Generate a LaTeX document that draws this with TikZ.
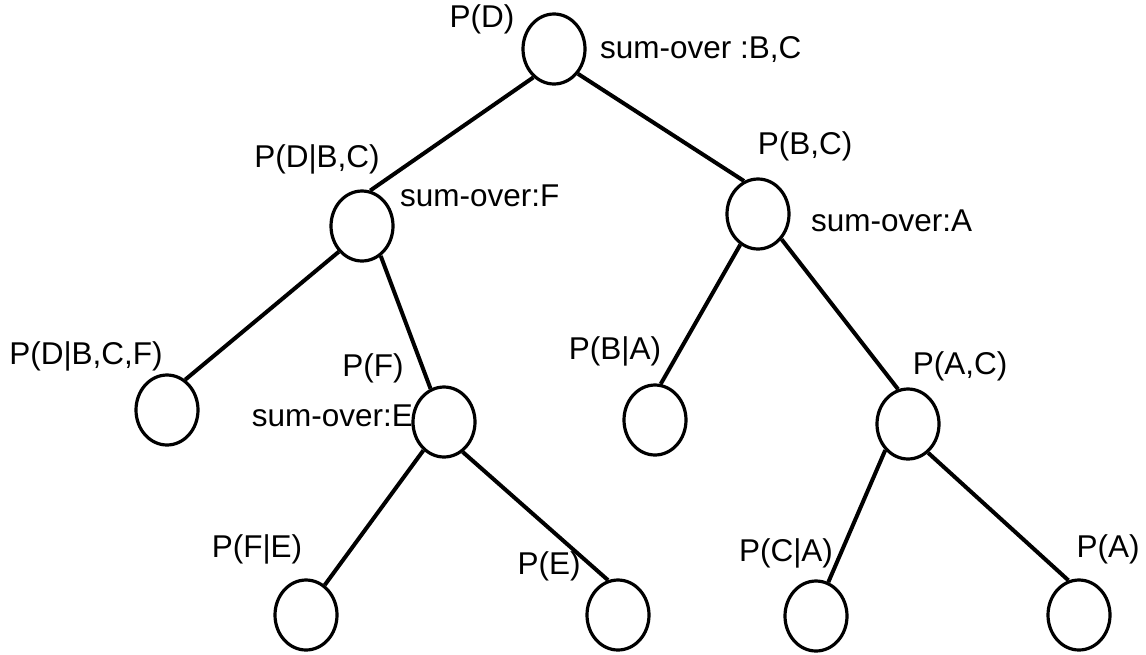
\documentclass[tikz,border=0pt]{standalone}
\usepackage{fontspec}
\setmainfont{Liberation Sans}
\usetikzlibrary{shapes.geometric}
\begin{document}
\begin{tikzpicture}[x=1pt,y=-1pt,
  vnode/.style={ellipse,draw,line width=3.2pt,inner sep=0pt,minimum width=62pt,minimum height=70pt},
  lbl/.style={inner sep=0pt,font=\fontsize{31.5}{36}\selectfont},
  edge/.style={line width=4pt}]
\useasboundingbox (0,0) rectangle (1146,654);
% nodes
\node[vnode] (root) at (554,49) {};
\node[vnode] (dbc) at (362,226) {};
\node[vnode] (bc) at (758,214) {};
\node[vnode] (dbcf) at (167,410) {};
\node[vnode] (f) at (444,422) {};
\node[vnode] (ba) at (655,420) {};
\node[vnode] (ac) at (908,424) {};
\node[vnode] (fe) at (306,615) {};
\node[vnode] (e) at (618,615) {};
\node[vnode] (ca) at (816,616) {};
\node[vnode] (a) at (1079,615) {};
% edges
\draw[edge] (root.234) -- (dbc.77);
\draw[edge] (root.314) -- (bc.113);
\draw[edge] (dbc.228) -- (dbcf.59);
\draw[edge] (dbc.302) -- (f.112);
\draw[edge] (bc.240) -- (ba.81);
\draw[edge] (bc.313) -- (ac.106);
\draw[edge] (f.234) -- (fe.58);
\draw[edge] (f.302) -- (e.106);
\draw[edge] (ac.229) -- (ca.70);
\draw[edge] (ac.305) -- (a.107);
% labels
\node[lbl] (lroot) at (482,19) {P(D)};
\node[lbl,anchor=west] (sroot) at (600,50) {sum-over :B,C};
\node[lbl] (ldbc) at (317,159) {P(D|B,C)};
\node[lbl,anchor=west] (sdbc) at (400,196) {sum-over:F};
\node[lbl] (lbc) at (805,146) {P(B,C)};
\node[lbl,anchor=west] (sbc) at (811,221) {sum-over:A};
\node[lbl] (ldbcf) at (86,356) {P(D|B,C,F)};
\node[lbl] (lf) at (373,368) {P(F)};
\node[lbl,anchor=east] (sf) at (413,416) {sum-over:E};
\node[lbl] (lba) at (615,351) {P(B|A)};
\node[lbl] (lac) at (960,366) {P(A,C)};
\node[lbl] (lfe) at (257,549) {P(F|E)};
\node[lbl] (le) at (549,566) {P(E)};
\node[lbl] (lca) at (786,553) {P(C|A)};
\node[lbl] (la) at (1108,549) {P(A)};
\end{tikzpicture}
\end{document}
